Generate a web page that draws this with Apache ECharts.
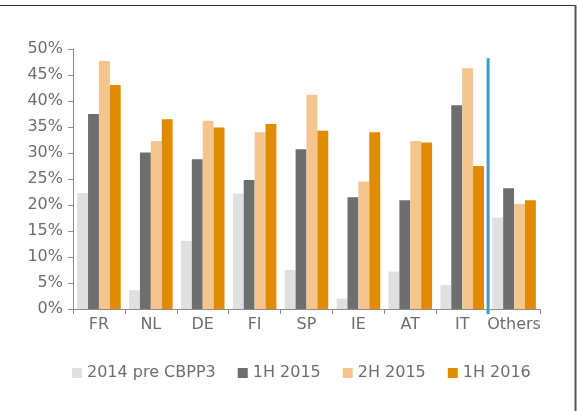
<!DOCTYPE html>
<html>
<head>
<meta charset="utf-8">
<script src="https://cdn.jsdelivr.net/npm/echarts@6/dist/echarts.min.js"></script>
<style>
  html, body { margin: 0; padding: 0; background: #fff; }
  #chart { width: 578px; height: 411px; }
</style>
</head>
<body>
<div id="chart"></div>
<script>
var categories = ["FR", "NL", "DE", "FI", "SP", "IE", "AT", "IT", "Others"];
var seriesNames = ["2014 pre CBPP3", "1H 2015", "2H 2015", "1H 2016"];
var pre2014 = [22.3, 3.6, 13.1, 22.2, 7.5, 2.0, 7.2, 4.6, 17.6];
var h1y2015 = [37.5, 30.1, 28.8, 24.8, 30.7, 21.5, 20.9, 39.2, 23.2];
var h2y2015 = [47.7, 32.3, 36.2, 34.0, 41.2, 24.5, 32.3, 46.3, 20.2];
var h1y2016 = [43.1, 36.5, 34.9, 35.6, 34.3, 34.0, 32.0, 27.5, 20.9];
// separator between IT and Others, on a 0..9 helper axis
var separator = [[8, 48.2], [8, -1]];

var colors = ["#e0e0e0", "#6e6e6e", "#f4c68e", "#e08b00"];
var values = [pre2014, h1y2015, h2y2015, h1y2016];
var textColor = "#6d6d6d";
var font = "DejaVu Sans";

var chart = echarts.init(document.getElementById("chart"));

var series = values.map(function (v, i) {
  return {
    name: seriesNames[i],
    type: "bar",
    data: v,
    barGap: "0%",
    barCategoryGap: "16%",
    itemStyle: { color: colors[i] },
  };
});

series.push({
  type: "line",
  xAxisIndex: 1,
  data: separator,
  symbol: "none",
  clip: false,
  silent: true,
  lineStyle: { color: "#3f9bc6", width: 3 },
});

var option = {
  animation: false,
  textStyle: { fontFamily: font },
  grid: { left: 73, right: 38, top: 49, bottom: 102 },
  legend: {
    data: seriesNames,
    left: 67,
    top: 360,
    itemWidth: 10,
    itemHeight: 10,
    itemGap: 22,
    icon: "rect",
    textStyle: { color: textColor, fontSize: 16, fontFamily: font },
  },
  xAxis: [
    {
      type: "category",
      data: categories,
      axisLine: { lineStyle: { color: "#8c8c8c", width: 1 } },
      axisTick: { show: true, length: 5, lineStyle: { color: "#8c8c8c" } },
      axisLabel: {
        color: textColor,
        fontSize: 16,
        margin: 8,
        interval: 0,
        fontFamily: font,
      },
    },
    {
      type: "value",
      min: 0,
      max: 9,
      show: false,
    },
  ],
  yAxis: {
    type: "value",
    min: 0,
    max: 50,
    interval: 5,
    axisLine: { show: true, lineStyle: { color: "#8c8c8c", width: 1 } },
    axisTick: { show: true, length: 5, lineStyle: { color: "#8c8c8c" } },
    splitLine: { show: false },
    axisLabel: {
      color: textColor,
      fontSize: 16,
      margin: 10,
      fontFamily: font,
      formatter: "{value}%",
    },
  },
  graphic: [
    {
      type: "line",
      shape: { x1: 0, y1: 5.5, x2: 576, y2: 5.5 },
      style: { stroke: "#333", lineWidth: 1 },
      silent: true,
    },
    {
      type: "line",
      shape: { x1: 575.5, y1: 5, x2: 575.5, y2: 411 },
      style: { stroke: "#555", lineWidth: 2 },
      silent: true,
    },
  ],
  series: series,
};

chart.setOption(option);
</script>
</body>
</html>
